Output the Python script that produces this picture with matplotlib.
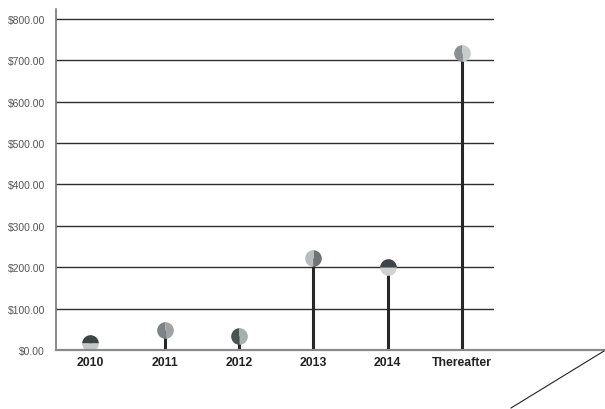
import matplotlib
matplotlib.use("Agg")
import matplotlib.pyplot as plt
from matplotlib.lines import Line2D

categories = ["2010", "2011", "2012", "2013", "2014", "Thereafter"]
values = [17, 48, 35, 222, 200, 718]
yticks = [0, 100, 200, 300, 400, 500, 600, 700, 800]

# two-tone look of the little balls
face = ["#3d4547", "#7d8384", "#4a5254", "#6f7576", "#3d4547", "#8a9092"]
face_alt = ["#c5c8c9", "#9ea3a4", "#a9aeaf", "#b9bcbd", "#cfd1d2", "#c9cccd"]
fill = ["top", "left", "left", "right", "top", "left"]

fig = plt.figure(figsize=(6.05, 4.10), dpi=100)
ax = fig.add_axes([56 / 605, 59 / 410, (494 - 56) / 605, (351 - 10) / 410])

font = ["Liberation Sans", "DejaVu Sans"]

for y in yticks[1:]:
    ax.axhline(y, color="#2e2e2e", lw=1.0, zorder=1)

x = list(range(len(categories)))
for i, v in enumerate(values):
    ax.plot([i, i], [0, v], color="#262626", lw=2.2, zorder=2, solid_capstyle="butt")
    ax.plot(i, v, marker="o", markersize=12, fillstyle=fill[i],
            markerfacecolor=face[i], markerfacecoloralt=face_alt[i],
            markeredgewidth=0, zorder=3)

ax.set_xlim(-0.46, 5.43)
ax.set_ylim(0, 824)
ax.set_yticks(yticks)
ax.set_yticklabels(["$%.2f" % t for t in yticks], color="#555555", fontsize=7.5, family=font)
ax.set_xticks(x)
ax.set_xticklabels(categories, fontsize=8.8, fontweight="bold", family=font, color="#222222")
ax.tick_params(axis="y", length=0, pad=8)
ax.tick_params(axis="x", length=0, pad=4)

for s in ["top", "right", "bottom"]:
    ax.spines[s].set_visible(False)
ax.spines["left"].set_color("#777777")
ax.spines["left"].set_linewidth(1.2)

# baseline running past the plot, then the slanted edge
fig.add_artist(Line2D([56 / 605, 605 / 605], [59 / 410, 59 / 410],
                      color="#8a8a8a", lw=1.6, transform=fig.transFigure))
fig.add_artist(Line2D([604 / 605, 511 / 605], [58 / 410, 1 / 410],
                      color="#222222", lw=0.8, transform=fig.transFigure))

fig.savefig("out.png", dpi=100)
